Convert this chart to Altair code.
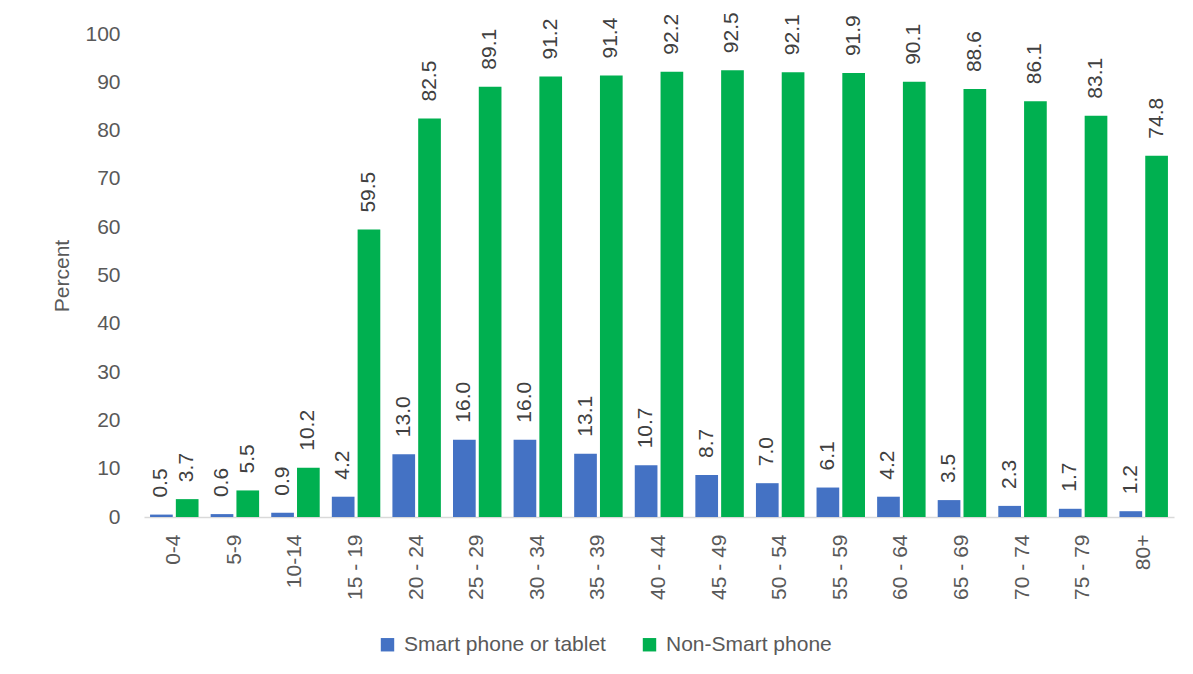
import altair as alt
import pandas as pd

categories = ["0-4", "5-9", "10-14", "15 - 19", "20 - 24", "25 - 29", "30 - 34", "35 - 39",
              "40 - 44", "45 - 49", "50 - 54", "55 - 59", "60 - 64", "65 - 69", "70 - 74",
              "75 - 79", "80+"]
smart = [0.5, 0.6, 0.9, 4.2, 13.0, 16.0, 16.0, 13.1, 10.7, 8.7, 7.0, 6.1, 4.2, 3.5, 2.3, 1.7, 1.2]
non_smart = [3.7, 5.5, 10.2, 59.5, 82.5, 89.1, 91.2, 91.4, 92.2, 92.5, 92.1, 91.9, 90.1, 88.6, 86.1, 83.1, 74.8]
series = ["Smart phone or tablet", "Non-Smart phone"]
colors = ["#4472C4", "#00B050"]
y_ticks = list(range(0, 101, 10))

rows = []
for i, c in enumerate(categories):
    rows.append({"age": c, "series": series[0], "value": smart[i]})
    rows.append({"age": c, "series": series[1], "value": non_smart[i]})
df = pd.DataFrame(rows)

FONT = "Liberation Sans, Arial, sans-serif"
FS = 21
GRAY = "#595959"

x = alt.X("age:N", sort=categories,
          scale=alt.Scale(paddingInner=0.2, paddingOuter=0.1),
          axis=alt.Axis(title=None, labelAngle=270, labelAlign="right", labelBaseline="middle",
                        labelPadding=17, ticks=False, tickSize=0, domainColor="#D9D9D9",
                        domainWidth=1.5, labelFontSize=FS, labelColor=GRAY, labelFont=FONT))
xo = alt.XOffset("series:N", sort=series, scale=alt.Scale(paddingInner=0.12))
y = alt.Y("value:Q", scale=alt.Scale(domain=[0, 100], nice=False),
          axis=alt.Axis(title="Percent", values=y_ticks, grid=False, domain=False, ticks=False,
                        tickSize=0, labelPadding=24, labelFontSize=FS, labelColor=GRAY,
                        labelFont=FONT, titleFont=FONT, titleFontSize=FS, titleFontWeight="normal",
                        titleColor=GRAY, titlePadding=12))

bars = alt.Chart(df).mark_bar().encode(
    x=x, xOffset=xo, y=y,
    color=alt.Color("series:N", sort=series,
                    scale=alt.Scale(domain=series, range=colors),
                    legend=alt.Legend(title=None, orient="none", direction="horizontal",
                                      legendX=233, legendY=600, padding=0,
                                      symbolType="square", symbolSize=180, symbolStrokeWidth=0,
                                      symbolOpacity=1, labelFontSize=FS, labelFont=FONT,
                                      labelColor=GRAY, labelOffset=6, columnPadding=33,
                                      labelLimit=500)),
)

labels = alt.Chart(df).mark_text(angle=270, align="left", baseline="middle", dx=17,
                                 fontSize=FS, font=FONT, color="#404040").encode(
    x=alt.X("age:N", sort=categories), xOffset=alt.XOffset("series:N", sort=series),
    y=alt.Y("value:Q"),
    text=alt.Text("value:Q", format=".1f"),
)

chart = alt.layer(bars, labels).properties(
    width=1030, height=483,
    autosize=alt.AutoSizeParams(type="none"),
    padding={"left": 136, "top": 26, "right": 10, "bottom": 140},
).configure_view(stroke=None)

chart.save("out.html", embed_options={"renderer": "svg", "actions": False})
